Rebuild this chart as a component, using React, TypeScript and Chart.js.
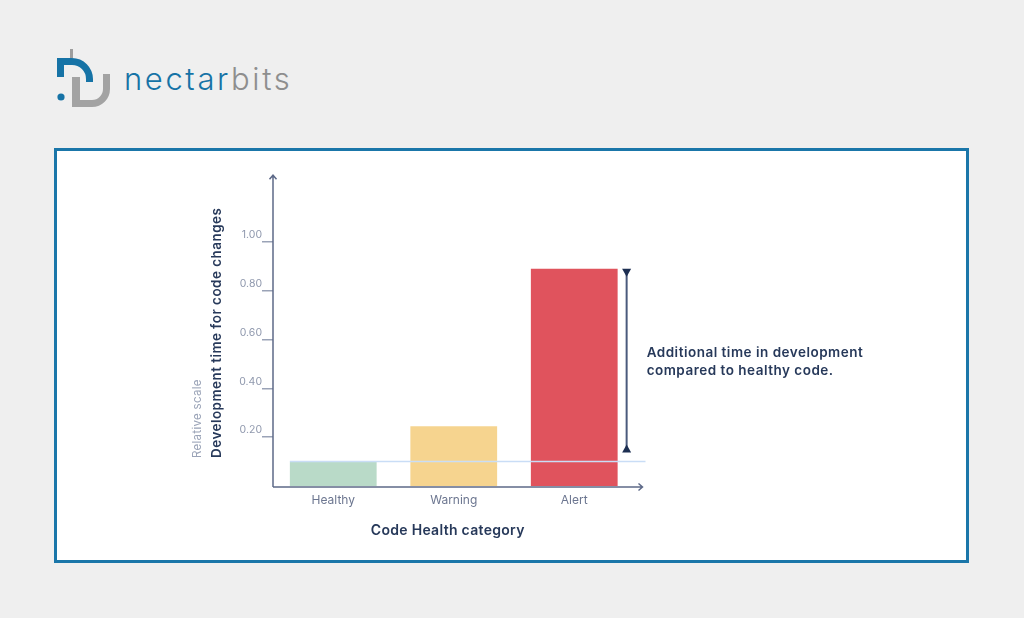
import React, { useEffect, useRef } from "react";
import { Chart, registerables } from "chart.js";

Chart.register(...registerables);

const categories = ["Healthy", "Warning", "Alert"];
const values = [0.1, 0.245, 0.89];
const barColors = ["#b9dac8", "#f6d48f", "#e0535d"];
const yTicks = [0.2, 0.4, 0.6, 0.8, 1.0];
const yMax = 1.2;
const yAxisTitle = "Development time for code changes";
const yAxisSubtitle = "Relative scale";
const xAxisTitle = "Code Health category";
const annotationLines = ["Additional time in development", "compared to healthy code."];
const baselineIndex = 0;
const highlightIndex = 2;

const NAVY = "#27395a";
const AXIS = "#5d6988";

const overlayPlugin = {
  id: "overlay",
  afterDatasetsDraw(chart: any) {
    const { ctx, chartArea, scales } = chart;
    const { left, right, top, bottom } = chartArea;
    const y = scales.y;
    const meta = chart.getDatasetMeta(0);
    const base = meta.data[baselineIndex];
    const hi = meta.data[highlightIndex];
    const yH = y.getPixelForValue(values[baselineIndex]);

    ctx.save();
    // healthy reference line
    ctx.strokeStyle = "#c9ddf6";
    ctx.lineWidth = 1.5;
    ctx.beginPath();
    ctx.moveTo(base.x - base.width / 2, yH);
    ctx.lineTo(right + 11, yH);
    ctx.stroke();

    // bracket
    const bx = hi.x + hi.width / 2 + 9;
    const yT = hi.y;
    const yB = yH - 9;
    ctx.strokeStyle = "#4a5a7c";
    ctx.lineWidth = 2;
    ctx.beginPath();
    ctx.moveTo(bx, yT + 2);
    ctx.lineTo(bx, yB - 2);
    ctx.stroke();
    ctx.fillStyle = "#1d2f52";
    ctx.beginPath();
    ctx.moveTo(bx - 4.5, yT);
    ctx.lineTo(bx + 4.5, yT);
    ctx.lineTo(bx, yT + 8);
    ctx.closePath();
    ctx.fill();
    ctx.beginPath();
    ctx.moveTo(bx - 4.5, yB);
    ctx.lineTo(bx + 4.5, yB);
    ctx.lineTo(bx, yB - 8);
    ctx.closePath();
    ctx.fill();

    // annotation text
    const mid = (yT + yB) / 2;
    ctx.fillStyle = NAVY;
    ctx.font = "600 13.5px Inter";
    (ctx as any).letterSpacing = "0.5px";
    ctx.textAlign = "left";
    ctx.textBaseline = "middle";
    ctx.fillText(annotationLines[0], bx + 20, mid - 8);
    ctx.fillText(annotationLines[1], bx + 20, mid + 10);

    // axes with arrows
    ctx.strokeStyle = AXIS;
    ctx.lineWidth = 1.5;
    ctx.beginPath();
    ctx.moveTo(left, bottom + 1);
    ctx.lineTo(left, top - 18);
    ctx.moveTo(left - 3.5, top - 14);
    ctx.lineTo(left, top - 18);
    ctx.lineTo(left + 3.5, top - 14);
    ctx.moveTo(left, bottom + 1);
    ctx.lineTo(right + 8, bottom + 1);
    ctx.moveTo(right + 4, bottom - 2.5);
    ctx.lineTo(right + 8, bottom + 1);
    ctx.lineTo(right + 4, bottom + 4.5);
    ctx.stroke();

    // axis titles
    ctx.fillStyle = NAVY;
    ctx.font = "600 14px Inter";
    (ctx as any).letterSpacing = "0.3px";
    ctx.textAlign = "center";
    ctx.textBaseline = "middle";
    ctx.fillText(xAxisTitle, (left + right) / 2 - 6, bottom + 45);

    ctx.save();
    ctx.translate(left - 56, bottom - 28);
    ctx.rotate(-Math.PI / 2);
    ctx.textAlign = "left";
    ctx.textBaseline = "middle";
    ctx.font = "600 13.5px Inter";
    (ctx as any).letterSpacing = "0.45px";
    ctx.fillStyle = NAVY;
    ctx.fillText(yAxisTitle, 0, 0);
    ctx.font = "400 11.5px Inter";
    (ctx as any).letterSpacing = "0.3px";
    ctx.fillStyle = "#9aa3b7";
    ctx.fillText(yAxisSubtitle, 0, -19);
    ctx.restore();

    (ctx as any).letterSpacing = "0px";
    ctx.restore();
  },
};

function Logo() {
  return (
    <div style={{ position: "absolute", left: 0, top: 0 }}>
      <svg
        width={70}
        height={70}
        viewBox="50 45 70 70"
        style={{ position: "absolute", left: 50, top: 45 }}
      >
        <path d="M70 49 H73 V58 H70 Z" fill="#9e9e9e" />
        <path
          d="M72 77 H80 V100 H92 A11 11 0 0 0 103 89 V74 H110 V89 A18 18 0 0 1 92 107 H72 Z"
          fill="#a3a3a3"
        />
        <path
          d="M57 58 H72 A21 21 0 0 1 93 79 V82 H86 V79 A14 14 0 0 0 72 65 H64 V77 H57 Z"
          fill="#1673a6"
        />
        <circle cx={61} cy={97} r={3.6} fill="#1673a6" />
      </svg>
      <div
        style={{
          position: "absolute",
          left: 124,
          top: 63,
          fontFamily: "Inter",
          fontWeight: 300,
          fontSize: 31,
          lineHeight: "32px",
          letterSpacing: 2.6,
          whiteSpace: "nowrap",
        }}
      >
        <span style={{ color: "#1673a6" }}>nectar</span>
        <span style={{ color: "#8e8e8e" }}>bits</span>
      </div>
    </div>
  );
}

export default function App() {
  const canvasRef = useRef<HTMLCanvasElement | null>(null);

  useEffect(() => {
    document.body.style.margin = "0";
    Chart.defaults.font.family = "Inter";
    const canvas = canvasRef.current!;
    const chart = new Chart(canvas, {
      type: "bar",
      data: {
        labels: categories,
        datasets: [
          {
            data: values,
            backgroundColor: barColors,
            borderWidth: 0,
            barPercentage: 0.72,
            categoryPercentage: 1,
          },
        ],
      },
      options: {
        animation: false,
        responsive: false,
        devicePixelRatio: 1,
        layout: { padding: { left: 213, right: 389.5, top: 193.2, bottom: 102 } },
        plugins: { legend: { display: false }, tooltip: { enabled: false } },
        scales: {
          x: {
            grid: { display: false, drawTicks: false },
            border: { display: false },
            ticks: { color: "#6c7690", font: { size: 12 }, padding: 7 },
            afterFit: (s: any) => {
              s.height = 30;
            },
          },
          y: {
            min: 0,
            max: yMax,
            grid: {
              drawOnChartArea: false,
              drawTicks: true,
              tickLength: 11,
              color: "#9aa3b7",
              lineWidth: 1.5,
            },
            border: { display: false },
            ticks: {
              color: "#8f98ad",
              font: { size: 10.5 },
              padding: 0,
              labelOffset: -7,
              callback: (v: any) => Number(v).toFixed(2),
            },
            afterBuildTicks: (s: any) => {
              s.ticks = yTicks.map((v) => ({ value: v }));
            },
            afterFit: (s: any) => {
              s.width = 60;
            },
          },
        },
      },
      plugins: [overlayPlugin],
    });
    return () => chart.destroy();
  }, []);

  return (
    <div
      style={{
        position: "fixed",
        left: 0,
        top: 0,
        width: 1024,
        height: 618,
        background: "#efefef",
        overflow: "hidden",
      }}
    >
      <Logo />
      <div
        style={{
          position: "absolute",
          left: 54,
          top: 148,
          width: 915,
          height: 415,
          boxSizing: "border-box",
          border: "3px solid #1a76a9",
          background: "#ffffff",
        }}
      />
      <canvas
        ref={canvasRef}
        width={1024}
        height={618}
        style={{ position: "absolute", left: 0, top: 0, width: 1024, height: 618 }}
      />
    </div>
  );
}
